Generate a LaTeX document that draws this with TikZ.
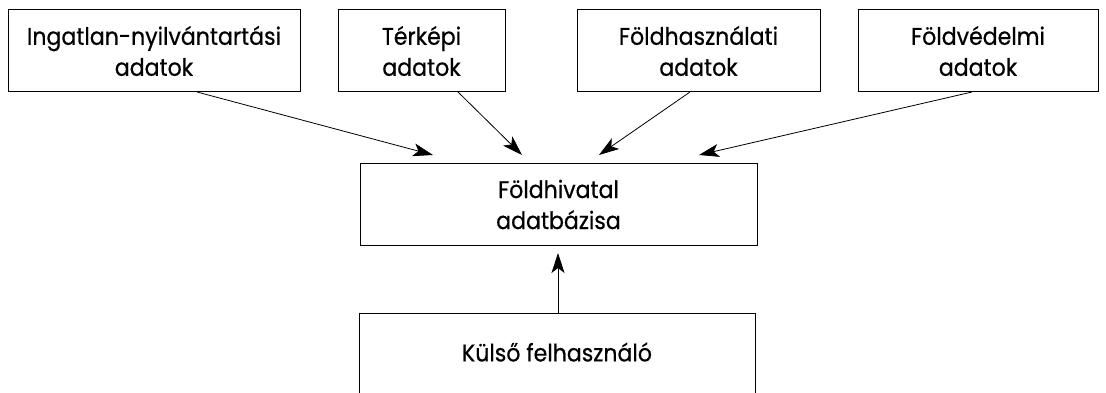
\documentclass[tikz,border=0pt]{standalone}
\usepackage{fontspec}
\setmainfont{Poppins}[FakeStretch=0.92, FakeBold=0.6]
\usetikzlibrary{arrows.meta}
\begin{document}
\begin{tikzpicture}[x=1pt,y=-1pt,
  box/.style={draw, line width=1pt, inner sep=0pt, align=center, font=\fontsize{24}{31}\selectfont},
  arr/.style={-{Stealth[length=20pt,width=13pt,inset=5pt]}, line width=0.8pt}]
\useasboundingbox (0,0) rectangle (1106,393);
\node[box, minimum width=292pt, minimum height=82pt] (ing) at (154,51) {Ingatlan-nyilvántartási\\adatok};
\node[box, minimum width=167pt, minimum height=82pt] (ter) at (421.5,51) {Térképi\\adatok};
\node[box, minimum width=243pt, minimum height=82pt] (fh) at (698.5,51) {Földhasználati\\adatok};
\node[box, minimum width=240pt, minimum height=82pt] (fv) at (978,51) {Földvédelmi\\adatok};
\node[box, minimum width=397pt, minimum height=82pt] (db) at (558.5,204.5) {Földhivatal\\adatbázisa};
\node[font=\fontsize{24}{31}\selectfont, inner sep=0pt] (ku) at (557,352) {Külső felhasználó};
\draw[line width=1pt] (359,393) -- (359,313) -- (755,313) -- (755,393);
\coordinate (kt) at (558,313);
\draw[arr] (197,92) -- (433,155);
\draw[arr] (458,92) -- (522,155);
\draw[arr] (690,92) -- (599,155);
\draw[arr] (972,92) -- (699,155);
\draw[arr] (kt) -- (558,253);
\end{tikzpicture}
\end{document}
